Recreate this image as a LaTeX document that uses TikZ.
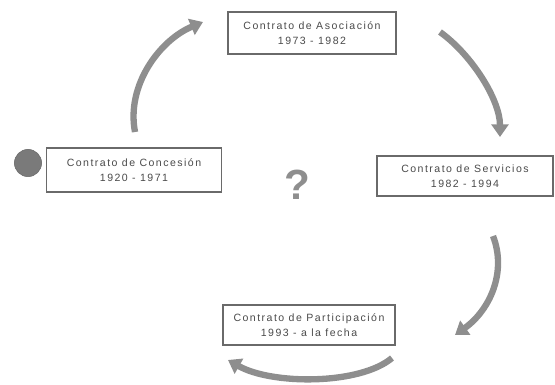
\documentclass[tikz,border=0pt]{standalone}
\usepackage{fontspec}
\setmainfont{Liberation Sans}
\usepackage{xcolor}
\definecolor{ink}{HTML}{4A4A4A}
\definecolor{swoosh}{HTML}{8E8E8E}
\definecolor{edge}{HTML}{6A6A6A}
\definecolor{dotgray}{HTML}{7A7A7A}
\usepackage{tikz}
\usetikzlibrary{arrows.meta,calc}
\tikzset{etapa/.style={draw=edge,line width=1pt,fill=white,align=center,text=ink,font=\fontsize{7.5}{11}\selectfont\addfontfeatures{LetterSpace=14},minimum height=1.05cm},flow/.style={draw=swoosh,line width=4.5pt,-{Triangle[length=9pt,width=12pt]}}}

\begin{document}
\begin{tikzpicture}[x=0.025cm,y=-0.025cm,
pastdot/.style={circle,fill=dotgray,draw=edge,line width=.4pt,minimum size=0.68cm,inner sep=0pt},
quest/.style={text=swoosh,font=\fontsize{30}{32}\selectfont\bfseries}]
\useasboundingbox (0,0) rectangle (555,384);
\node[etapa,minimum width=4.2cm] (aso) at (312,33) {Contrato de Asociación\\1973 - 1982};
\node[etapa,minimum width=4.375cm,minimum height=1.1cm] (con) at (134,170) {Contrato de Concesión\\1920 - 1971};
\node[etapa,minimum width=4.4cm,minimum height=1cm] (ser) at (465,176) {Contrato de Servicios\\1982 - 1994};
\node[etapa,minimum width=4.3cm,minimum height=1cm] (par) at (309,325) {Contrato de Participación\\1993 - a la fecha};
\node[pastdot] (pt) at (28,163) {};
\node[quest] (q) at (297,185) {?};
\coordinate (c1s) at (135,132);
\coordinate (c1e) at (203,22);
\coordinate (c2s) at (440,32);
\coordinate (c2e) at (500,137);
\coordinate (c3s) at (493,236);
\coordinate (c3e) at (455,335);
\coordinate (c4s) at (392,358);
\coordinate (c4e) at (228,360);
\draw[flow] (c1s) .. controls (126,85) and (160,40) .. (c1e);
\draw[flow] (c2s) .. controls (472,55) and (500,100) .. (c2e);
\draw[flow] (c3s) .. controls (507,272) and (490,310) .. (c3e);
\draw[flow] (c4s) .. controls (360,385) and (272,385) .. (c4e);
\end{tikzpicture}
\end{document}
